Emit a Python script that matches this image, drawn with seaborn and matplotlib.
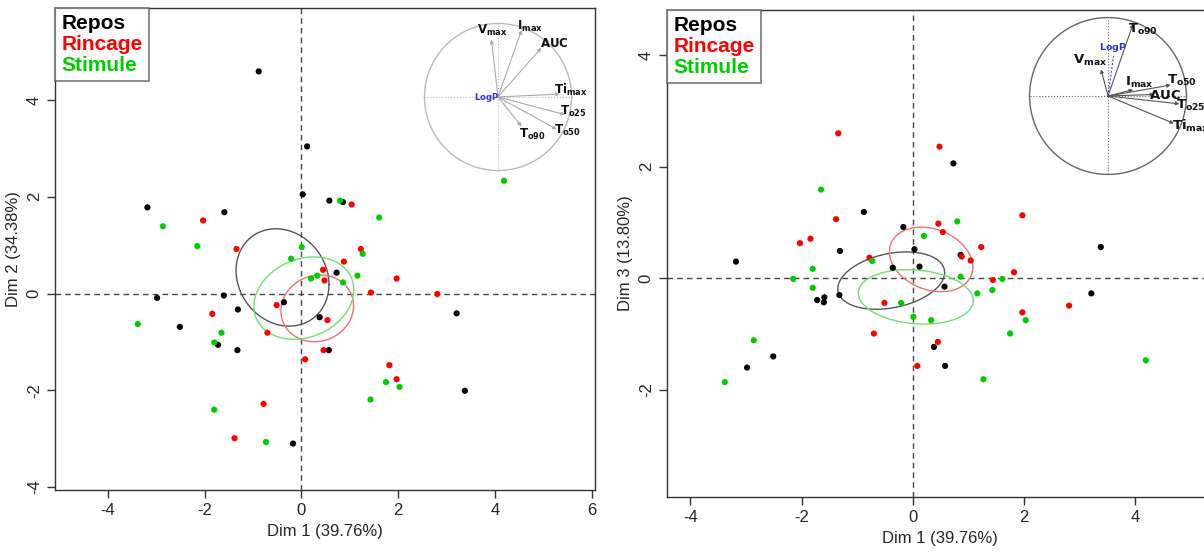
import numpy as np
import pandas as pd
import matplotlib
matplotlib.use("Agg")
import matplotlib.pyplot as plt
import seaborn as sns
from matplotlib.lines import Line2D

# individuals, coordinates on the first three PCA dimensions
groups = ["Repos", "Rincage", "Stimule"]
group_colors = ["#000000", "#FF0000", "#00CD00"]
ellipse_colors = ["#555555", "#F47070", "#70E070"]

dim1_repos = [-0.88, 0.12, 0.03, 0.58, 0.86, -3.18, -1.59, 0.73, -1.60, -2.98,
              -0.36, -1.31, 0.38, 3.21, -2.51, -1.72, -1.32, 0.57, 3.38, -0.17]
dim2_repos = [4.59, 3.04, 2.05, 1.92, 1.89, 1.78, 1.68, 0.43, -0.04, -0.09,
              -0.18, -0.33, -0.49, -0.41, -0.69, -1.06, -1.17, -1.17, -2.01, -3.10]
dim3_repos = [1.19, 0.21, 0.52, -1.57, 0.42, 0.30, -0.34, 2.06, -0.43, -1.60,
              0.19, 0.49, -1.23, -0.27, -1.40, -0.39, -0.30, -0.15, 0.56, 0.92]

dim1_rincage = [1.04, -2.03, -1.34, 1.23, 0.88, 0.45, 1.97, 0.48, 1.44, 2.81,
                -0.51, -1.84, 0.54, -0.70, 0.46, 0.08, 1.82, 1.97, -0.78, -1.38]
dim2_rincage = [1.84, 1.51, 0.92, 0.92, 0.66, 0.49, 0.31, 0.27, 0.02, -0.01,
                -0.24, -0.42, -0.55, -0.81, -1.17, -1.36, -1.48, -1.77, -2.28, -2.99]
dim3_rincage = [0.32, 0.63, 2.60, 0.56, 0.39, -1.14, 1.13, 2.36, -0.03, -0.49,
                -0.44, 0.71, 0.83, -0.99, 0.98, -1.57, 0.11, -0.61, 0.37, 1.06]

dim1_stimule = [4.19, 0.80, 1.61, -2.86, -2.15, 0.01, -0.21, 1.27, 0.33, 1.16,
                0.20, 0.86, -3.38, -1.65, -1.80, 1.75, 2.03, 1.43, -1.80, -0.73]
dim2_stimule = [2.33, 1.92, 1.57, 1.39, 0.98, 0.96, 0.72, 0.82, 0.37, 0.37,
                0.31, 0.23, -0.63, -0.81, -1.01, -1.83, -1.93, -2.19, -2.40, -3.07]
dim3_stimule = [-1.47, 1.02, -0.01, -1.11, -0.01, -0.69, -0.44, -1.81, -0.75, -0.27,
                0.76, 0.03, -1.86, 1.59, 0.17, -0.99, -0.75, -0.21, -0.17, 0.31]

# variables, correlation with the dimensions
var_names = ["Vmax", "Imax", "AUC", "Timax", "To25", "To50", "To90", "LogP"]
var_labels = [r"$\mathbf{V}_{\mathbf{max}}$", r"$\mathbf{I}_{\mathbf{max}}$",
              r"$\mathbf{AUC}$", r"$\mathbf{Ti}_{\mathbf{max}}$",
              r"$\mathbf{T}_{\mathbf{o25}}$", r"$\mathbf{T}_{\mathbf{o50}}$",
              r"$\mathbf{T}_{\mathbf{o90}}$", r"$\mathbf{LogP}$"]
load_dim1 = [-0.09, 0.32, 0.59, 0.84, 0.91, 0.80, 0.32, 0.07]
load_dim2 = [0.78, 0.91, 0.67, 0.04, -0.24, -0.44, -0.40, 0.02]
load_dim3 = [0.34, 0.08, 0.02, -0.35, -0.10, 0.14, 0.92, 0.51]

dim_labels = {"Dim1": "Dim 1 (39.76%)", "Dim2": "Dim 2 (34.38%)", "Dim3": "Dim 3 (13.80%)"}

df = pd.DataFrame({
    "Dim1": dim1_repos + dim1_rincage + dim1_stimule,
    "Dim2": dim2_repos + dim2_rincage + dim2_stimule,
    "Dim3": dim3_repos + dim3_rincage + dim3_stimule,
    "group": [groups[0]] * len(dim1_repos) + [groups[1]] * len(dim1_rincage)
             + [groups[2]] * len(dim1_stimule),
})
loadings = pd.DataFrame({"Dim1": load_dim1, "Dim2": load_dim2, "Dim3": load_dim3},
                        index=var_names)

sns.set_style("white")
plt.rcParams["font.family"] = ["Liberation Sans", "DejaVu Sans"]
plt.rcParams["mathtext.fontset"] = "dejavusans"
plt.rcParams["axes.unicode_minus"] = False

W, H = 1204, 552
fig = plt.figure(figsize=(W / 100, H / 100), dpi=100)


def px_axes(left, top, width, height):
    return fig.add_axes([left / W, 1 - (top + height) / H, width / W, height / H])


def conf_ellipse(x, y, k=2.4477, n_pts=60):
    # 95% confidence ellipse around the group mean
    x, y = np.asarray(x), np.asarray(y)
    cov = np.cov(x, y) / len(x)
    L = np.linalg.cholesky(cov)
    t = np.linspace(0, 2 * np.pi, n_pts)
    circ = np.vstack([np.cos(t), np.sin(t)])
    pts = L @ circ * k
    return x.mean() + pts[0], y.mean() + pts[1]


def draw_panel(ax, ydim, xlim, ylim, yticks, xticks):
    sns.scatterplot(data=df, x="Dim1", y=ydim, hue="group", hue_order=groups,
                    palette=group_colors, s=20, linewidth=0, legend=False, ax=ax,
                    zorder=3)
    for g, c in zip(groups, ellipse_colors):
        sub = df[df["group"] == g]
        ex, ey = conf_ellipse(sub["Dim1"], sub[ydim])
        ax.plot(ex, ey, color=c, lw=1.0, zorder=2)
    ax.axhline(0, color="#444444", lw=1, ls=(0, (4, 3)), zorder=1)
    ax.axvline(0, color="#444444", lw=1, ls=(0, (4, 3)), zorder=1)
    ax.set_xlim(*xlim)
    ax.set_ylim(*ylim)
    ax.set_xticks(xticks)
    ax.set_yticks(yticks)
    ax.set_xlabel(dim_labels["Dim1"], fontsize=12, labelpad=4)
    ax.set_ylabel(dim_labels[ydim], fontsize=12, labelpad=4)
    for s in ax.spines.values():
        s.set_visible(True)
        s.set_color("#333333")
        s.set_linewidth(1)
    ax.tick_params(direction="out", length=6, width=1, color="#333333",
                   labelsize=12, bottom=True, left=True)
    ax.tick_params(axis="y", labelrotation=90)
    plt.setp(ax.get_yticklabels(), va="center")
    handles = [Line2D([], [], ls="none") for _ in groups]
    leg = ax.legend(handles, groups, loc="upper left", borderaxespad=0,
                    handlelength=0, handletextpad=0, labelcolor=group_colors,
                    prop={"weight": "bold", "size": 15}, frameon=True,
                    fancybox=False, edgecolor="#555555", labelspacing=0.08,
                    borderpad=0.3)
    leg.get_frame().set_linewidth(1.2)


def draw_circle(ax, ydim, offsets, circle_color, arrow_color, logp_dashed, fsize):
    t = np.linspace(0, 2 * np.pi, 200)
    ax.plot(np.cos(t), np.sin(t), color=circle_color, lw=1)
    ax.plot([-1, 1], [0, 0], color=circle_color, lw=0.8, ls=":")
    ax.plot([0, 0], [-1, 1], color=circle_color, lw=0.8, ls=":")
    for name, lab in zip(var_names, var_labels):
        vx, vy = loadings.loc[name, "Dim1"], loadings.loc[name, ydim]
        dx, dy = offsets[name]
        if name == "LogP":
            if logp_dashed:
                ax.plot([0, vx], [0, vy], color="#4040FF", lw=0.8, ls=(0, (2, 1.5)))
            ax.text(vx + dx, vy + dy, lab, color="#3030E0", fontsize=fsize * 0.72,
                    ha="center", va="center", clip_on=False)
            continue
        ax.annotate("", xy=(vx, vy), xytext=(0, 0),
                    arrowprops=dict(arrowstyle="-|>", color=arrow_color, lw=0.8,
                                    mutation_scale=5, shrinkA=0, shrinkB=0))
        ax.text(vx + dx, vy + dy, lab, color="#111111", fontsize=fsize,
                ha="center", va="center", clip_on=False)
    ax.set_xlim(-1.02, 1.02)
    ax.set_ylim(-1.02, 1.02)
    ax.axis("off")


# left panel: Dim 1 x Dim 2
ax1 = px_axes(55, 8, 540, 482)
draw_panel(ax1, "Dim2", (-5.09, 6.07), (-4.06, 5.90), [-4, -2, 0, 2, 4],
           [-4, -2, 0, 2, 4, 6])

# right panel: Dim 1 x Dim 3 (cut by the image edge)
ax2 = px_axes(667, 10, 545, 487)
draw_panel(ax2, "Dim3", (-4.42, 5.38), (-3.92, 4.81), [-2, 0, 2, 4],
           [-4, -2, 0, 2, 4])

offsets12 = {"Vmax": (0.01, 0.12), "Imax": (0.12, 0.05), "AUC": (0.18, 0.06),
             "Timax": (0.15, 0.06), "To25": (0.12, 0.04), "To50": (0.15, -0.02),
             "To90": (0.15, -0.11), "LogP": (-0.22, -0.03)}
offsets13 = {"Vmax": (-0.14, 0.11), "Imax": (0.08, 0.09), "AUC": (0.14, -0.01),
             "Timax": (0.21, -0.03), "To25": (0.15, -0.02), "To50": (0.14, 0.06),
             "To90": (0.12, -0.07), "LogP": (-0.01, 0.11)}

c1 = px_axes(498 - 75, 97 - 75, 150, 150)
draw_circle(c1, "Dim2", offsets12, "#BBBBBB", "#AAAAAA", False, 8.5)

c2 = px_axes(1108 - 80, 96 - 80, 160, 160)
draw_circle(c2, "Dim3", offsets13, "#666666", "#555555", True, 9.5)

fig.savefig("out.png", dpi=100)
plt.close(fig)
